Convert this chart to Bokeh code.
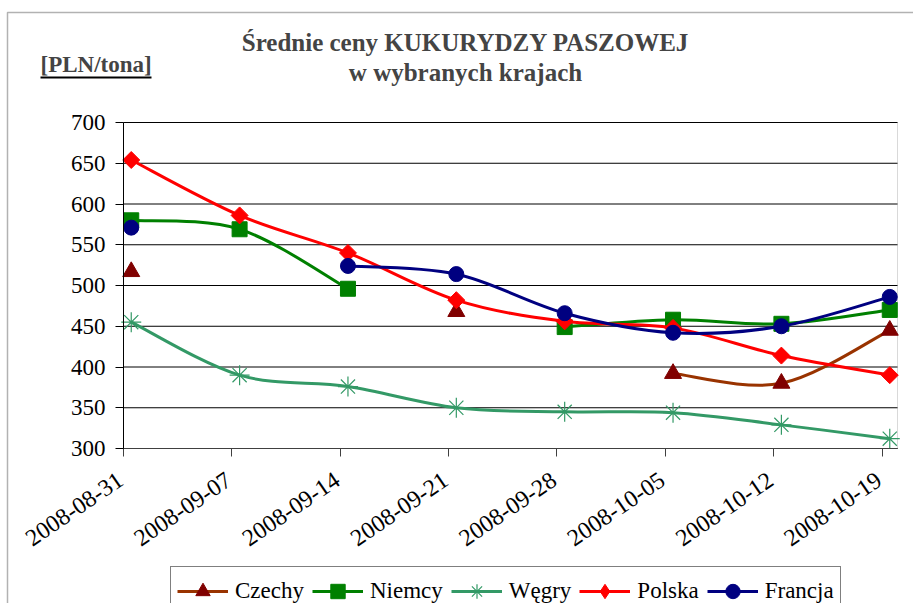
from datetime import date
from bokeh.plotting import figure
from bokeh.models import (ColumnDataSource, Range1d, FixedTicker, Label, BoxAnnotation,
                          Legend, LegendItem)
from bokeh.core.properties import value
from bokeh.embed import file_html
from bokeh.resources import INLINE

# ---------------- data ----------------
dates = ["2008-08-31", "2008-09-07", "2008-09-14", "2008-09-21",
         "2008-09-28", "2008-10-05", "2008-10-12", "2008-10-19"]
czechy = [517, None, None, 468, None, 392, 380, 445]
niemcy = [580, 569, 496, None, 449, 458, 453, 470]
wegry = [455, 390, 376, 350, 345, 344, 329, 312]
polska = [654, 586, 540, 482, 456, 448, 414, 390]
francja = [571, None, 524, 514, 466, 442, 450, 486]
y_ticks = [300, 350, 400, 450, 500, 550, 600, 650, 700]

title_1 = "Średnie ceny KUKURYDZY PASZOWEJ"
title_2 = "w wybranych krajach"
unit_label = "[PLN/tona]"

# ---------------- layout (pixels) ----------------
W, H = 913, 603
PL, PR, PT, PB = 123, 897, 122, 448          # plot area edges on the canvas
Y0, Y1 = y_ticks[0], y_ticks[-1]

# date axis: days since first date; each point sits in the middle of its day
d0 = date.fromisoformat(dates[0])
day_ticks = [(date.fromisoformat(d) - d0).days for d in dates]
xs = [t + 0.5 for t in day_ticks]
X0, X1 = 0, day_ticks[-1] + 1

ppx = (PR - PL) / (X1 - X0)
ppy = (PB - PT) / (Y1 - Y0)
x_range = Range1d(X0 - PL / ppx, X1 + (W - PR) / ppx)
y_range = Range1d(Y0 - (H - PB) / ppy, Y1 + PT / ppy)

p = figure(width=W, height=H, output_backend="svg", toolbar_location=None,
           x_range=x_range, y_range=y_range,
           min_border_left=0, min_border_right=0, min_border_top=0, min_border_bottom=0)
p.background_fill_color = "white"
p.border_fill_color = "white"
p.outline_line_color = None
p.xgrid.visible = False
p.ygrid.visible = False

# horizontal grid lines limited to the plot area
p.segment(x0=[X0] * len(y_ticks), x1=[X1] * len(y_ticks), y0=y_ticks, y1=y_ticks,
          line_color="black", line_width=1)
# plot-area border (grey)
p.add_layout(BoxAnnotation(left=X0, right=X1, bottom=Y0, top=Y1, fill_color=None,
                           fill_alpha=0, line_color="#808080", line_width=1,
                           level="underlay"))

yax = p.yaxis[0]
yax.fixed_location = X0
yax.bounds = (Y0, Y1)
yax.ticker = FixedTicker(ticks=y_ticks)
yax.axis_line_color = "black"
yax.major_tick_line_color = "black"
yax.major_tick_in = 0
yax.major_tick_out = 8
yax.minor_tick_line_color = None
yax.major_label_text_font = "serif"
yax.major_label_text_font_size = "23px"
yax.major_label_text_color = "black"
yax.major_label_standoff = 10

xax = p.xaxis[0]
xax.fixed_location = Y0
xax.bounds = (X0, X1)
xax.ticker = FixedTicker(ticks=day_ticks)
xax.major_label_overrides = {t: "" for t in day_ticks}   # labels drawn below as slanted text
xax.axis_line_color = "#404040"
xax.major_tick_line_color = "#404040"
xax.major_tick_in = 0
xax.major_tick_out = 8
xax.minor_tick_line_color = None

# slanted date labels at the tick positions
p.text(x=day_ticks, y=[Y0] * len(day_ticks), text=dates, angle=0.6,
       x_offset=-7, y_offset=23, text_align="right", text_baseline="top",
       text_font=value("Liberation Serif"), text_font_size="24px", text_color="black")


def smooth(xv, yv):
    """Bezier segments (Excel-like smoothed line) between consecutive non-null points."""
    runs, cur = [], []
    for x, y in zip(xv, yv):
        if y is None:
            if cur:
                runs.append(cur)
            cur = []
        else:
            cur.append((x, y))
    if cur:
        runs.append(cur)
    seg = dict(x0=[], y0=[], x1=[], y1=[], cx0=[], cy0=[], cx1=[], cy1=[])
    for run in runs:
        n = len(run)
        for i in range(n - 1):
            pa = run[i - 1] if i > 0 else run[i]
            pb, pc = run[i], run[i + 1]
            pd = run[i + 2] if i + 2 < n else run[i + 1]
            seg["x0"].append(pb[0]); seg["y0"].append(pb[1])
            seg["x1"].append(pc[0]); seg["y1"].append(pc[1])
            seg["cx0"].append(pb[0] + (pc[0] - pa[0]) / 6)
            seg["cy0"].append(pb[1] + (pc[1] - pa[1]) / 6)
            seg["cx1"].append(pc[0] - (pd[0] - pb[0]) / 6)
            seg["cy1"].append(pc[1] - (pd[1] - pb[1]) / 6)
    return ColumnDataSource(seg)


# name, values, line colour, marker, marker colour, marker size, marker angle, legend marker
series = [
    ("Czechy", czechy, "#993300", "triangle", "#800000", 17, 0.0, "triangle"),
    ("Niemcy", niemcy, "#008000", "square", "#008000", 15, 0.0, "square"),
    ("Węgry", wegry, "#339966", "asterisk", "#339966", 20, 0.0, "asterisk"),
    ("Polska", polska, "#FF0000", "square", "#FF0000", 12, 0.785398, "diamond"),
    ("Francja", francja, "#000080", "circle", "#000080", 15, 0.0, "circle"),
]

NAN = float("nan")
items = []
for name, vals, lcol, marker, mcol, msize, mang, lmarker in series:
    p.bezier(x0="x0", y0="y0", x1="x1", y1="y1", cx0="cx0", cy0="cy0",
             cx1="cx1", cy1="cy1", source=smooth(xs, vals),
             line_color=lcol, line_width=3)
    yv = [NAN if v is None else v for v in vals]
    src = ColumnDataSource(dict(x=xs, y=yv))
    lw = 1.2 if marker == "asterisk" else 1
    fill = None if marker == "asterisk" else mcol
    sr = p.scatter("x", "y", source=src, marker=marker, size=msize, angle=mang,
                   fill_color=fill, line_color=mcol, line_width=lw)
    # legend-only samples (a single NaN point, so nothing is drawn in the plot)
    proxy_line = p.line(x=[NAN], y=[NAN], line_color=lcol, line_width=3)
    if lmarker == marker and mang == 0.0:
        leg_renderers = [proxy_line, sr]
    else:
        proxy_mark = p.scatter(x=[NAN], y=[NAN], marker=lmarker, size=msize,
                               fill_color=fill, line_color=mcol, line_width=lw)
        leg_renderers = [proxy_line, proxy_mark]
    items.append(LegendItem(label=name, renderers=leg_renderers))

LEG_LEFT, LEG_TOP, LEG_H = 170, 568, 48
legend = Legend(items=items, orientation="horizontal",
                location=(LEG_LEFT, H - (LEG_TOP + LEG_H)),
                glyph_width=51, glyph_height=36, label_standoff=7, spacing=8,
                padding=6, margin=0,
                label_text_font="Liberation Serif", label_text_font_size="23px",
                label_text_color="black",
                border_line_color="black", border_line_width=1,
                background_fill_color="white", background_fill_alpha=1)
p.add_layout(legend, "center")

# chart area border (top/left visible, the rest runs off the page like the original)
p.add_layout(BoxAnnotation(left=7, right=W + 50, top=12, bottom=H + 50,
                           left_units="canvas", right_units="canvas",
                           top_units="canvas", bottom_units="canvas",
                           fill_color=None, fill_alpha=0,
                           line_color="black", line_width=1.5))

p.add_layout(Label(x=465, y=42, x_units="canvas", y_units="canvas", text=title_1,
                   text_align="center", text_baseline="alphabetic",
                   text_font="Liberation Serif", text_font_size="25px",
                   text_font_style="bold"))
p.add_layout(Label(x=465, y=72, x_units="canvas", y_units="canvas", text=title_2,
                   text_align="center", text_baseline="alphabetic",
                   text_font="Liberation Serif", text_font_size="25px",
                   text_font_style="bold"))
p.add_layout(Label(x=40, y=64, x_units="canvas", y_units="canvas", text=unit_label,
                   text_align="left", text_baseline="alphabetic",
                   text_font="Liberation Serif", text_font_size="23px",
                   text_font_style="bold"))
p.add_layout(BoxAnnotation(left=40, right=151, top=76, bottom=78,
                           left_units="canvas", right_units="canvas",
                           top_units="canvas", bottom_units="canvas",
                           fill_color="black", fill_alpha=1, line_color=None))

open("out.html", "w").write(file_html(p, INLINE))
